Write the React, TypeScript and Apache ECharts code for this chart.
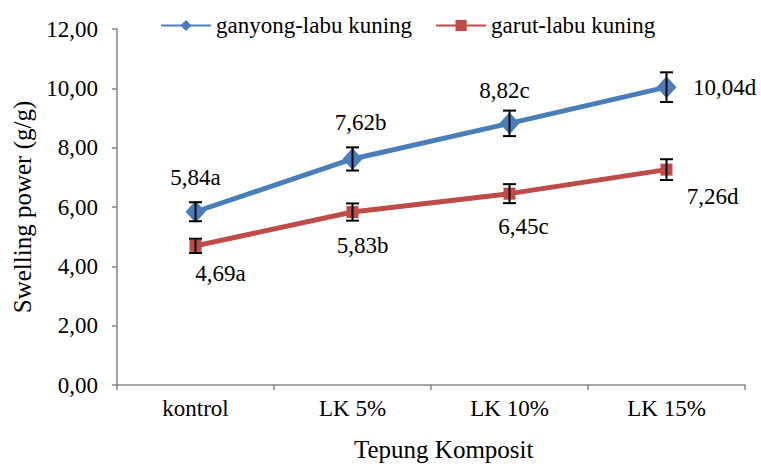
import React, { useEffect, useRef } from "react";
import * as echarts from "echarts";

const categories = ["kontrol", "LK 5%", "LK 10%", "LK 15%"];
const ganyongValues = [5.84, 7.62, 8.82, 10.04];
const garutValues = [4.69, 5.83, 6.45, 7.26];
const ganyongLetters = ["a", "b", "c", "d"];
const garutLetters = ["a", "b", "c", "d"];
const ganyongErr = [0.32, 0.39, 0.43, 0.5];
const garutErr = [0.24, 0.29, 0.32, 0.35];
const yTicks = [0, 2, 4, 6, 8, 10, 12];

const ganyongLabelOffsets = [
  [0, -34],
  [8, -36],
  [-5, -33],
  [58, 0],
];
const garutLabelOffsets = [
  [25, 28],
  [10, 33],
  [14, 33],
  [46, 27],
];

const FONT = "serif";
const fmt = (v: number) => v.toFixed(2).replace(".", ",");

export default function App() {
  const ref = useRef<HTMLDivElement>(null);
  useEffect(() => {
    if (!ref.current) return;
    const chart = echarts.init(ref.current, null, { renderer: "svg" });
    const errData = (vals: number[], errs: number[]) =>
      vals.map((v, i) => [i, v - errs[i], v + errs[i]]);
    const renderErr = (params: any, api: any) => {
      const x = api.value(0);
      const lo = api.coord([x, api.value(1)]);
      const hi = api.coord([x, api.value(2)]);
      const w = 6.5;
      const style = { stroke: "#000", lineWidth: 2 };
      return {
        type: "group",
        children: [
          { type: "line", shape: { x1: lo[0], y1: lo[1], x2: hi[0], y2: hi[1] }, style },
          { type: "line", shape: { x1: lo[0] - w, y1: lo[1], x2: lo[0] + w, y2: lo[1] }, style },
          { type: "line", shape: { x1: hi[0] - w, y1: hi[1], x2: hi[0] + w, y2: hi[1] }, style },
        ],
      };
    };
    const labelStyle = {
      fontFamily: FONT,
      fontSize: 23,
      color: "#000",
    };
    const mkData = (vals: number[], letters: string[], offs: number[][]) =>
      vals.map((v, i) => ({
        value: v,
        label: {
          show: true,
          position: "inside",
          offset: offs[i],
          formatter: fmt(v) + letters[i],
          ...labelStyle,
        },
      }));
    chart.setOption({
      animation: false,
      grid: { left: 117, right: 16, top: 29, bottom: 79 },
      legend: {
        top: 9,
        left: 155,
        itemGap: 23,
        itemWidth: 50,
        itemHeight: 14,
        textStyle: { fontFamily: FONT, fontSize: 23, color: "#000" },
        data: ["ganyong-labu kuning", "garut-labu kuning"],
      },
      xAxis: {
        type: "category",
        data: categories,
        boundaryGap: true,
        axisLine: { lineStyle: { color: "#868686", width: 1.5 } },
        axisTick: { show: true, length: 5, alignWithLabel: false, lineStyle: { color: "#868686", width: 1.5 } },
        axisLabel: { margin: 12, fontFamily: FONT, fontSize: 23, color: "#000" },
      },
      yAxis: {
        type: "value",
        min: yTicks[0],
        max: yTicks[yTicks.length - 1],
        interval: 2,
        name: "Swelling power (g/g)",
        nameLocation: "middle",
        nameRotate: 90,
        nameGap: 80,
        nameTextStyle: { fontFamily: FONT, fontSize: 25, color: "#000" },
        axisLine: { show: true, lineStyle: { color: "#868686", width: 1.5 } },
        axisTick: { show: true, length: 5, lineStyle: { color: "#868686", width: 1.5 } },
        splitLine: { show: false },
        axisLabel: { margin: 19, fontFamily: FONT, fontSize: 23, color: "#000", formatter: fmt },
      },
      graphic: [
        {
          type: "text",
          left: 354,
          top: 437,
          style: { text: "Tepung Komposit", fontFamily: FONT, fontSize: 25, fill: "#000" },
        },
      ],
      series: [
        {
          name: "ganyong-labu kuning",
          type: "line",
          data: mkData(ganyongValues, ganyongLetters, ganyongLabelOffsets),
          symbol: "diamond",
          symbolSize: [20, 22],
          lineStyle: { color: "#4a7ebb", width: 5 },
          itemStyle: { color: "#4a7ebb" },
          label: labelStyle,
          z: 3,
        },
        {
          name: "garut-labu kuning",
          type: "line",
          data: mkData(garutValues, garutLetters, garutLabelOffsets),
          symbol: "rect",
          symbolSize: 12,
          lineStyle: { color: "#be4b48", width: 5 },
          itemStyle: { color: "#be4b48" },
          label: labelStyle,
          z: 3,
        },
        {
          type: "custom",
          renderItem: renderErr,
          data: errData(ganyongValues, ganyongErr),
          encode: { x: 0, y: [1, 2] },
          z: 5,
          silent: true,
        },
        {
          type: "custom",
          renderItem: renderErr,
          data: errData(garutValues, garutErr),
          encode: { x: 0, y: [1, 2] },
          z: 5,
          silent: true,
        },
      ],
    });
    return () => chart.dispose();
  }, []);
  return <div ref={ref} style={{ width: 761, height: 464, position: "absolute", left: 0, top: 0 }} />;
}
